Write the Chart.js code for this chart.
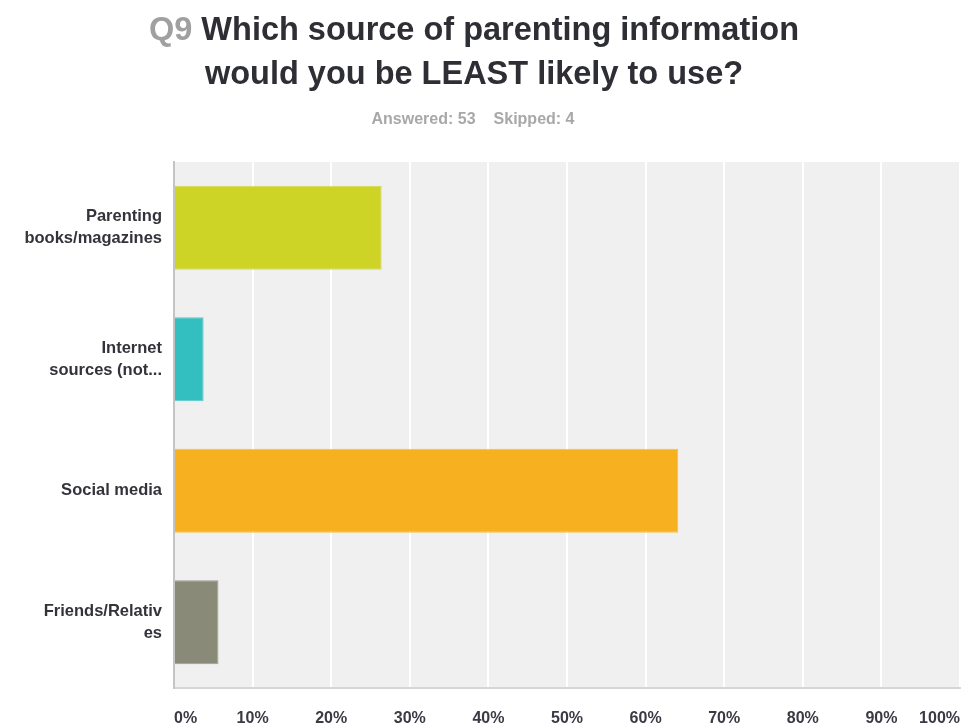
<!DOCTYPE html>
<html>
<head>
<meta charset="utf-8">
<script src="https://cdn.jsdelivr.net/npm/chart.js@4.4.1/dist/chart.umd.min.js"></script>
<style>
  html, body { margin: 0; padding: 0; background: #fff; }
  #wrap { position: relative; width: 962px; height: 725px; overflow: hidden; }
  #title { position: absolute; left: 0; top: 7px; width: 948px; text-align: center;
    font-family: "Liberation Sans", Arial, sans-serif; font-weight: bold; font-size: 32.5px;
    line-height: 44px; color: #2e2e35; }
  #title .q { color: #a0a0a0; }
  #sub { position: absolute; left: 0; top: 109px; width: 946px; text-align: center;
    font-family: "Liberation Sans", Arial, sans-serif; font-weight: bold; font-size: 16px;
    line-height: 20px; color: #a8a8a8; }
  #sub span { margin: 0 9px; }
  canvas { position: absolute; left: 0; top: 0; }
</style>
</head>
<body>
<div id="wrap">
  <canvas id="c" width="962" height="725"></canvas>
  <div id="title"><span class="q">Q9</span> Which source of parenting information<br>would you be LEAST likely to use?</div>
  <div id="sub"><span>Answered: 53</span><span>Skipped: 4</span></div>
</div>
<script>
const categories = [
  ["Parenting", "books/magazines"],
  ["Internet", "sources (not..."],
  ["Social media"],
  ["Friends/Relativ", "es"]
];
const percentValues = [26.42, 3.77, 64.15, 5.66];
const barColors = ["#cdd426", "#33bec0", "#f7b01f", "#8a8a78"];
const tickLabels = ["0%", "10%", "20%", "30%", "40%", "50%", "60%", "70%", "80%", "90%", "100%"];

const plotBg = {
  id: 'plotBg',
  beforeDraw(chart) {
    const { ctx, chartArea: a } = chart;
    ctx.save();
    ctx.fillStyle = '#f0f0f0';
    ctx.fillRect(a.left, a.top, a.right - a.left, a.bottom - a.top);
    ctx.restore();
  }
};

new Chart(document.getElementById('c'), {
  type: 'bar',
  data: {
    labels: categories,
    datasets: [{
      data: percentValues,
      backgroundColor: barColors,
      borderColor: barColors.map(c => c + 'cc'),
      borderWidth: 1,
      categoryPercentage: 0.8,
      barPercentage: 0.8
    }]
  },
  options: {
    indexAxis: 'y',
    responsive: false,
    animation: false,
    devicePixelRatio: 1,
    layout: { padding: { top: 162, right: 2, left: 0, bottom: 0 } },
    plugins: { legend: { display: false }, tooltip: { enabled: false }, title: { display: false } },
    scales: {
      x: {
        min: 0, max: 100,
        ticks: {
          stepSize: 10,
          align: 'inner',
          padding: 21,
          color: '#3a3a44',
          font: { family: "'Liberation Sans', Arial, sans-serif", size: 16, weight: 'bold' },
          callback: (v, i) => tickLabels[i]
        },
        grid: { color: '#ffffff', lineWidth: 2, drawTicks: false },
        border: { display: true, color: '#d6d6d6', width: 2 },
        afterFit(s) { s.height = 37; s.paddingLeft = 0; s.paddingRight = 0; }
      },
      y: {
        ticks: {
          padding: 12,
          color: '#33333b',
          font: { family: "'Liberation Sans', Arial, sans-serif", size: 16.5, weight: 'bold', lineHeight: 1.35 }
        },
        grid: { display: false, drawTicks: false },
        border: { display: true, color: '#c4c4c4', width: 2 },
        afterFit(s) { s.width = 174; s.paddingTop = 0; s.paddingBottom = 0; }
      }
    }
  },
  plugins: [plotBg]
});
</script>
</body>
</html>
